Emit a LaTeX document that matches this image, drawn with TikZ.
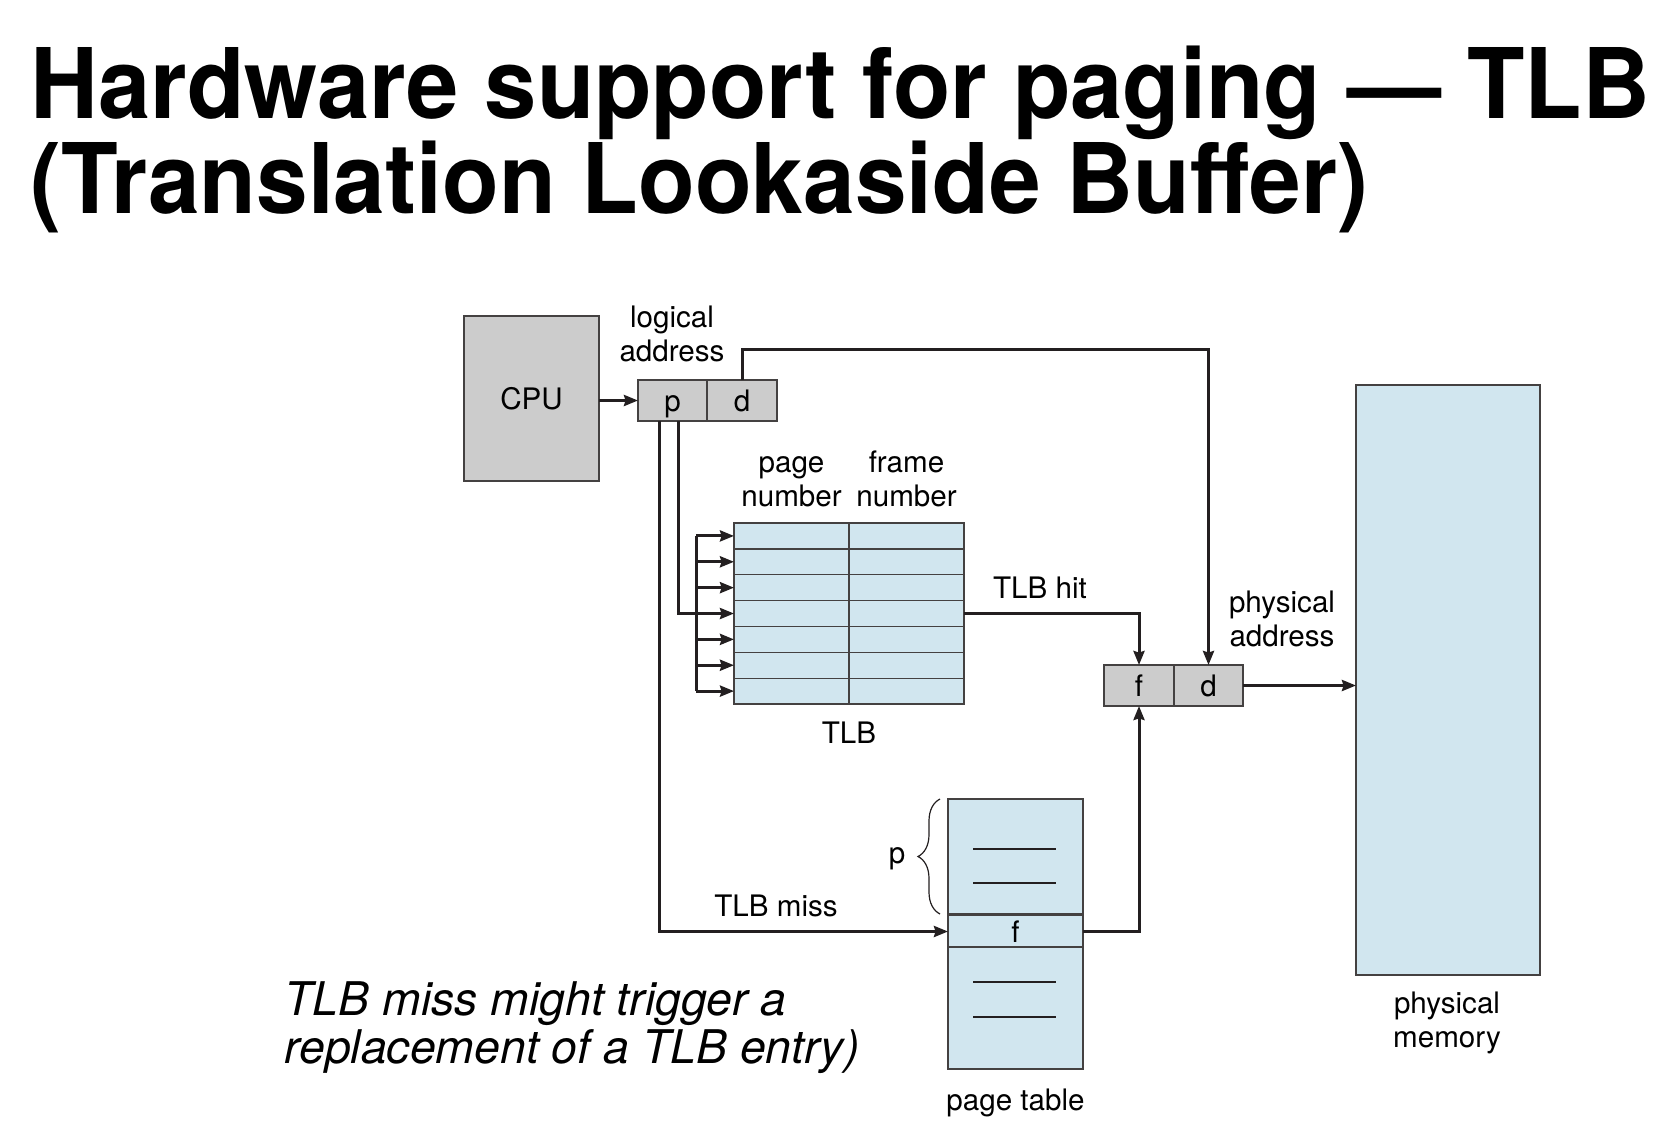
\documentclass[tikz,border=0pt]{standalone}
\usepackage{fontspec}
\setmainfont{TeX Gyre Heros}
\usetikzlibrary{arrows.meta,calc,decorations.pathreplacing}

\definecolor{ink}{RGB}{35,31,32}
\definecolor{boxgray}{RGB}{204,204,204}
\definecolor{memblue}{RGB}{209,230,239}

\tikzset{
  arr/.style={draw=ink, line width=1.5pt, -{Stealth[length=7pt,width=5.5pt,inset=0.8pt]}},
  wire/.style={draw=ink, line width=1.5pt},
  cell/.style={draw=ink!85, line width=0.65pt, inner sep=0pt, outer sep=0pt},
  regbox/.style={cell, fill=boxgray, minimum height=20.5pt, text height=10.7pt, text depth=0pt},
  tabbox/.style={cell, fill=memblue},
  lbl/.style={font=\fontsize{14.8}{16.8}\selectfont, align=center, inner sep=0pt},
  titlefont/.style={font=\fontsize{48.7}{55}\selectfont\bfseries, anchor=base west, inner sep=0pt, xscale=0.965},
}

\begin{document}
\begin{tikzpicture}[x=0.5pt, y=-0.5pt]
\useasboundingbox (0,0) rectangle (1660,1146);

% title
\node[titlefont] (title1) at (30,118) {Hardware support for paging — TLB};
\node[titlefont, xscale=0.988] (title2) at (30,213) {(Translation Lookaside Buffer)};

% cpu and logical address
\node[regbox, lbl, minimum width=67.5pt, minimum height=82.5pt] (cpu) at (531.5,398.5) {CPU};
\node[regbox, lbl, minimum width=34.5pt] (lp) at (672.5,400.5) {p};
\node[regbox, lbl, minimum width=35pt] (ld) at (742,400.5) {d};
\node[lbl] (lalbl) at (672,334) {logical\\address};
\draw[arr] (cpu.east |- lp.west) -- (lp.west);

% TLB
\foreach \i in {1,...,7} {
  \node[tabbox, minimum width=57.5pt, minimum height=12.93pt] (tp\i) at (791.5,510.07+25.86*\i) {};
  \node[tabbox, minimum width=57.5pt, minimum height=12.93pt] (tf\i) at (906.5,510.07+25.86*\i) {};
}
\node[lbl] (pnlbl) at (791.5,482) {page\\number};
\node[lbl] (fnlbl) at (906.5,479) {frame\\number};
\node[lbl] (tlblbl) at (849,733) {TLB};

\coordinate (bus top) at ($(tp1.west)+(-38,0)$);
\coordinate (bus bot) at ($(tp7.west)+(-38,0)$);
\draw[wire] (bus top) -- (bus bot);
\foreach \i in {1,...,7}
  \draw[arr] (tp\i.west -| bus top) -- (tp\i.west);
\draw[wire] ($(lp.south)+(5.5,0)$) |- (tp4.west -| bus top);

% physical address
\node[regbox, lbl, minimum width=35pt] (pf) at (1139,685.5) {f};
\node[regbox, lbl, minimum width=34.5pt] (pd) at (1208.5,685.5) {d};
\node[lbl] (palbl) at (1282,619) {physical\\address};
\draw[arr] (tf4.east) -| (pf.north);
\node[lbl] (hitlbl) at (1040,588) {TLB hit};
\draw[arr] (ld.north) -- ++(0,-31) -| (pd.north);

% physical memory
\node[tabbox, minimum width=92pt, minimum height=295pt] (mem) at (1448,680) {};
\node[lbl] (memlbl) at (1447,1023) {physical\\memory};
\draw[arr] (pd.east) -- (pd.east -| mem.west);

% page table
\node[tabbox, minimum width=67.5pt, minimum height=57.5pt] (ptt) at (1015.5,856.5) {};
\node[tabbox, lbl, minimum width=67.5pt, minimum height=16.5pt, text height=10.7pt, text depth=0pt] (ptf) at (1015.5,931.5) {f};
\node[tabbox, minimum width=67.5pt, minimum height=61pt] (ptb) at (1015.5,1008) {};
\draw[draw=ink, line width=0.7pt] ($(ptt.center)+(-42.5,-7.5)$) -- ++(83,0);
\draw[draw=ink, line width=0.7pt] ($(ptt.center)+(-42.5,26.5)$) -- ++(83,0);
\draw[draw=ink, line width=0.7pt] ($(ptb.center)+(-42.5,-26)$) -- ++(83,0);
\draw[draw=ink, line width=0.7pt] ($(ptb.center)+(-42.5,9)$) -- ++(83,0);
\node[lbl] (ptlbl) at (1015.5,1103) {page table};
\draw[draw=ink, line width=0.6pt, decorate, decoration={brace, amplitude=11pt}]
  ($(ptt.south west)+(-8,0)$) -- ($(ptt.north west)+(-8,0)$);
\node[lbl] (plbl) at (897,859) {p};

% TLB miss
\draw[arr] ($(lp.south)+(-13.5,0)$) |- (ptf.west);
\node[lbl] (misslbl) at (776,906) {TLB miss};
\draw[arr] (ptf.east) -| (pf.south);

% note
\node[font=\fontsize{23.2}{24}\selectfont\itshape, align=left, inner sep=0pt, anchor=west] (note) at (284,1028)
  {TLB miss might trigger a\\replacement of a TLB entry)};
\end{tikzpicture}
\end{document}
